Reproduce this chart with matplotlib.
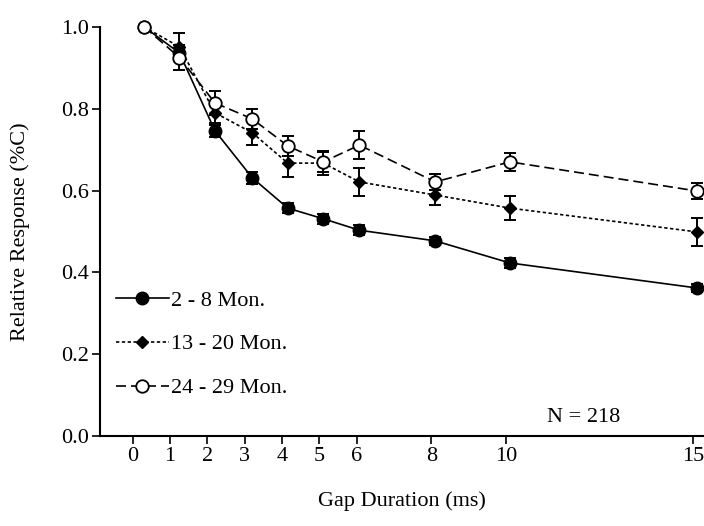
import matplotlib
matplotlib.use("Agg")
import matplotlib.pyplot as plt
import numpy as np

# Gap duration (ms)
gap = [0.3, 1.25, 2.2, 3.2, 4.15, 5.1, 6.07, 8.1, 10.1, 15.1]

# Relative response, one list per age group
resp_young = [1.0, 0.936, 0.746, 0.631, 0.557, 0.531, 0.503, 0.477, 0.423, 0.362]
err_young = [0.0, 0.02, 0.015, 0.015, 0.012, 0.012, 0.012, 0.01, 0.012, 0.01]

resp_mid = [1.0, 0.951, 0.79, 0.741, 0.667, 0.667, 0.621, 0.589, 0.557, 0.499]
err_mid = [0.0, 0.035, 0.025, 0.03, 0.035, 0.03, 0.035, 0.025, 0.03, 0.035]

resp_old = [1.0, 0.925, 0.814, 0.775, 0.709, 0.67, 0.711, 0.621, 0.67, 0.599]
err_old = [0.0, 0.03, 0.03, 0.025, 0.025, 0.025, 0.035, 0.02, 0.022, 0.02]

labels = ["2 - 8 Mon.", "13 - 20 Mon.", "24 - 29 Mon."]
xticks = [0, 1, 2, 3, 4, 5, 6, 8, 10, 15]
yticks = [0.0, 0.2, 0.4, 0.6, 0.8, 1.0]

plt.rcParams['font.family'] = ['Liberation Serif', 'DejaVu Serif']

fig = plt.figure(figsize=(7.04, 5.26), dpi=100)
ax = fig.add_axes([0.142, 0.171, 0.858, 0.778])

series = [
    (resp_young, err_young, dict(marker='o', markersize=9, markerfacecolor='black',
                                 linestyle='-', linewidth=1.2)),
    (resp_mid, err_mid, dict(marker='D', markersize=6, markerfacecolor='black',
                             linestyle=(0, (2, 1.5)), linewidth=1.2)),
    (resp_old, err_old, dict(marker='o', markersize=9, markerfacecolor='white',
                             markeredgewidth=1.3, linestyle=(0, (6, 3)), linewidth=1.2)),
]

handles = []
for (y, e, st), lab in zip(series, labels):
    ax.errorbar(gap, y, yerr=e, fmt='none', ecolor='black', elinewidth=1.4,
                capsize=4.5, capthick=1.4, clip_on=False, zorder=2)
    h, = ax.plot(gap, y, color='black', markeredgecolor='black', label=lab,
                 clip_on=False, zorder=3, **st)
    handles.append(h)

ax.set_xlim(-0.88, 15.3)
ax.set_ylim(0.0, 1.0)
ax.set_xticks(xticks)
ax.set_yticks(yticks)
ax.set_yticklabels([f"{v:.1f}" for v in yticks])

for s in ['top', 'right']:
    ax.spines[s].set_visible(False)
for s in ['left', 'bottom']:
    ax.spines[s].set_linewidth(1.5)

ax.tick_params(axis='both', direction='out', length=6, width=1.2, labelsize=16,
               colors='black')
ax.tick_params(axis='x', pad=2)
ax.tick_params(axis='y', pad=2)

ax.set_xlabel("Gap Duration (ms)", fontsize=16, labelpad=18)
ax.set_ylabel("Relative Response (%C)", fontsize=16, labelpad=22)

ax.text(11.1, 0.045, "N = 218", fontsize=16, ha='left', va='center')

ax.legend(handles=handles, loc='upper left', bbox_to_anchor=(0.0, 0.395),
          frameon=False, fontsize=16, handlelength=2.4, handletextpad=0.1,
          labelspacing=1.05, numpoints=1, borderaxespad=0.3)

fig.savefig("out.png", dpi=100)
